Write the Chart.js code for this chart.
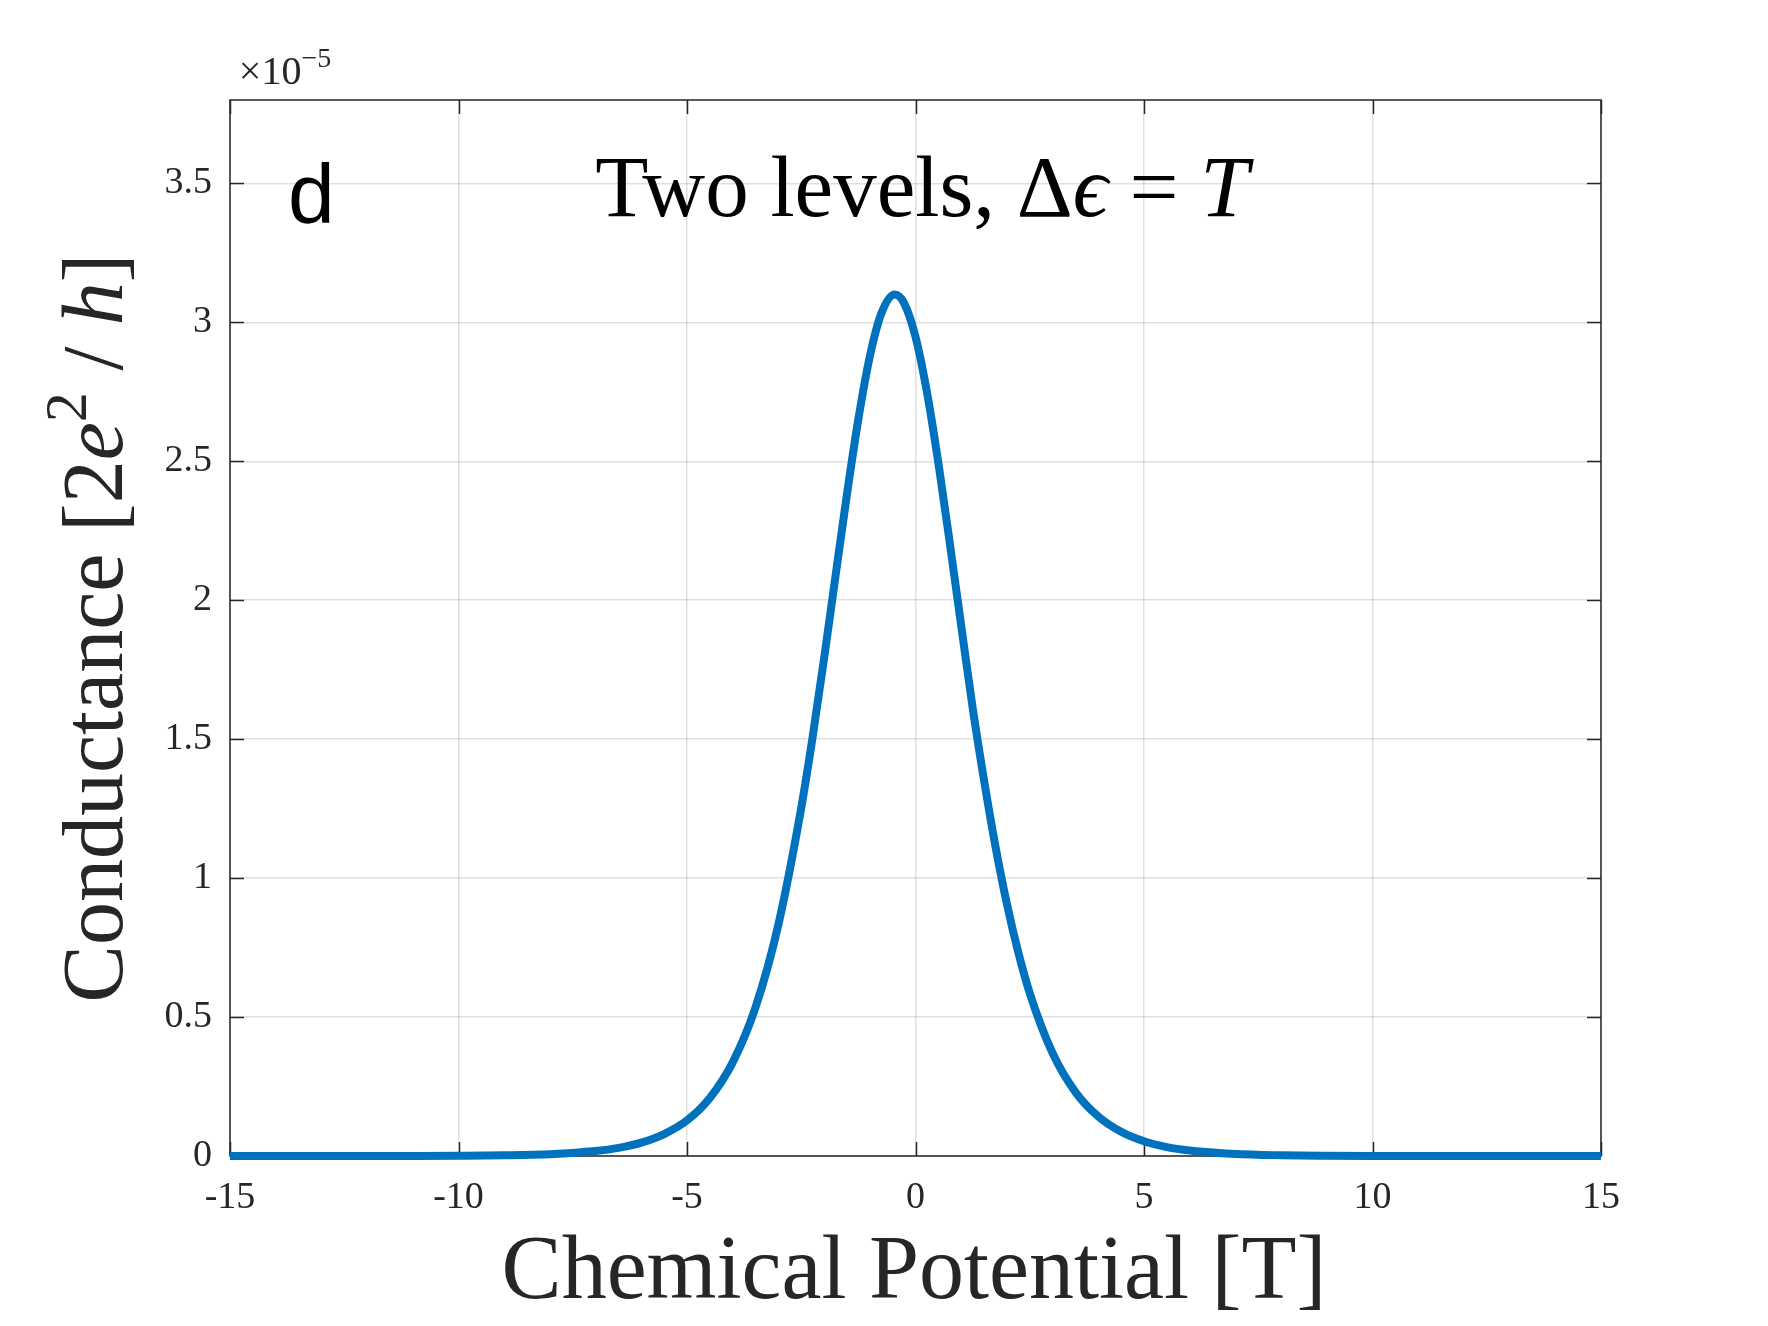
<!DOCTYPE html>
<html>
<head>
<meta charset="utf-8">
<script src="https://cdn.jsdelivr.net/npm/chart.js@4/dist/chart.umd.min.js"></script>
<style>
  html, body { margin: 0; padding: 0; background: #ffffff; }
  #wrap { width: 1768px; height: 1326px; }
</style>
</head>
<body>
<div id="wrap"><canvas id="conductanceChart" width="1768" height="1326"></canvas></div>
<script>
// Two levels, delta eps = T : conductance vs chemical potential

// chemical potential [T]
const muValues = [
  -15, -14, -13, -12, -11, -10, -9, -8, -7, -6.5, -6, -5.5, -5, -4.5, -4, -3.5,
  -3, -2.5, -2.25, -2, -1.75, -1.5, -1.25, -1, -0.75, -0.45, -0.25, 0, 0.25,
  0.5, 0.75, 1, 1.25, 1.5, 1.75, 2, 2.25, 2.5, 3, 3.5, 4, 4.5, 5, 5.5, 6, 7,
  8, 9, 10, 11, 12, 13, 14, 15
];
// conductance, in units of 1e-5 [2e^2/h]
const conductance = [
  0.0000, 0.0000, 0.0001, 0.0001, 0.0003, 0.0009, 0.0024, 0.0065, 0.0177, 0.029, 0.048, 0.079, 0.128, 0.209, 0.337, 0.535,
  0.833, 1.253, 1.509, 1.791, 2.087, 2.381, 2.652, 2.877, 3.031, 3.100, 3.069, 2.948, 2.749,
  2.494, 2.206, 1.908, 1.613, 1.352, 1.114, 0.907, 0.732, 0.586, 0.370, 0.230, 0.142, 0.087, 0.053, 0.032, 0.0196, 0.0072,
  0.0027, 0.0010, 0.0004, 0.0001, 0.0000, 0.0000, 0.0000, 0.0000
];

const xTicks = [-15, -10, -5, 0, 5, 10, 15];
const yTicks = [0, 0.5, 1, 1.5, 2, 2.5, 3, 3.5];
const xRange = [-15, 15];
const yRange = [0, 3.8];

const serif = "'Liberation Serif', 'DejaVu Serif', serif";
const axisColor = '#262626';

// draws a run of [text, style] pieces; style: r = roman, i = italic, s = superscript
function richWidth(ctx, parts, size) {
  let w = 0;
  parts.forEach(p => {
    const sz = p[1] === 's' ? size * 0.7 : size;
    ctx.font = (p[1] === 'i' ? 'italic ' : '') + sz + 'px ' + serif;
    w += ctx.measureText(p[0]).width;
  });
  return w;
}

function drawRich(ctx, parts, x, y, size, color) {
  let cx = x - richWidth(ctx, parts, size) / 2;
  ctx.fillStyle = color;
  ctx.textBaseline = 'alphabetic';
  ctx.textAlign = 'left';
  parts.forEach(p => {
    const sup = p[1] === 's';
    const sz = sup ? size * 0.7 : size;
    ctx.font = (p[1] === 'i' ? 'italic ' : '') + sz + 'px ' + serif;
    ctx.fillText(p[0], cx, sup ? y - size * 0.42 : y);
    cx += ctx.measureText(p[0]).width;
  });
}

const frame = {
  id: 'frame',
  beforeDatasetsDraw(chart) {
    const { ctx, chartArea: a, scales: { x, y } } = chart;
    ctx.save();
    ctx.strokeStyle = axisColor;
    ctx.lineWidth = 1.5;
    ctx.strokeRect(a.left, a.top, a.right - a.left, a.bottom - a.top);
    ctx.beginPath();
    xTicks.forEach(v => {
      const px = Math.round(x.getPixelForValue(v)) + 0.5;
      ctx.moveTo(px, a.bottom); ctx.lineTo(px, a.bottom - 14);
      ctx.moveTo(px, a.top); ctx.lineTo(px, a.top + 14);
    });
    yTicks.forEach(v => {
      const py = Math.round(y.getPixelForValue(v)) + 0.5;
      ctx.moveTo(a.left, py); ctx.lineTo(a.left + 14, py);
      ctx.moveTo(a.right, py); ctx.lineTo(a.right - 14, py);
    });
    ctx.stroke();
    ctx.restore();
  },
  afterDraw(chart) {
    const { ctx, chartArea: a } = chart;
    ctx.save();
    // exponent above the y axis
    drawRich(ctx, [['×10', 'r'], ['−5', 's']], a.left + 55, a.top - 16, 40, axisColor);

    // panel letter
    ctx.font = "84px 'Liberation Sans', Arial, sans-serif";
    ctx.fillStyle = '#000000';
    ctx.textAlign = 'left';
    ctx.fillText('d', a.left + 58, 223);

    // title inside axes
    drawRich(ctx, [['Two levels, Δ', 'r'], ['ϵ', 'i'], [' = ', 'r'], ['T', 'i']],
      922, 216, 87, '#000000');

    // x title
    drawRich(ctx, [['Chemical Potential [T]', 'r']], 914, 1298, 90, axisColor);

    // y title
    ctx.translate(122, 628);
    ctx.rotate(-Math.PI / 2);
    drawRich(ctx, [['Conductance [2', 'r'], ['e', 'i'], ['2', 's'], [' / ', 'r'], ['h', 'i'], [']', 'r']],
      0, 0, 86, axisColor);
    ctx.restore();
  }
};

const ctx = document.getElementById('conductanceChart').getContext('2d');

new Chart(ctx, {
  type: 'line',
  data: {
    datasets: [{
      data: muValues.map((m, i) => ({ x: m, y: conductance[i] })),
      borderColor: '#0072BD',
      borderWidth: 8,
      pointRadius: 0,
      cubicInterpolationMode: 'monotone',
      borderCapStyle: 'butt',
      clip: false,
      fill: false
    }]
  },
  options: {
    responsive: false,
    animation: false,
    devicePixelRatio: 1,
    layout: { padding: { top: 100, right: 167, left: 0, bottom: 0 } },
    plugins: {
      legend: { display: false },
      title: { display: false },
      tooltip: { enabled: false }
    },
    scales: {
      x: {
        type: 'linear',
        min: xRange[0],
        max: xRange[1],
        afterBuildTicks: s => { s.ticks = xTicks.map(v => ({ value: v })); },
        afterFit: s => { s.height = 170; },
        border: { display: false },
        grid: { color: 'rgba(38,38,38,0.15)', lineWidth: 1.5, drawTicks: false },
        ticks: {
          color: axisColor,
          padding: 19,
          maxRotation: 0,
          font: { family: serif, size: 38 },
          callback: v => String(v)
        }
      },
      y: {
        type: 'linear',
        min: yRange[0],
        max: yRange[1],
        afterBuildTicks: s => { s.ticks = yTicks.map(v => ({ value: v })); },
        afterFit: s => { s.width = 230; },
        border: { display: false },
        grid: { color: 'rgba(38,38,38,0.15)', lineWidth: 1.5, drawTicks: false },
        ticks: {
          color: axisColor,
          padding: 18,
          font: { family: serif, size: 38 },
          callback: v => String(v)
        }
      }
    }
  },
  plugins: [frame]
});
</script>
</body>
</html>
